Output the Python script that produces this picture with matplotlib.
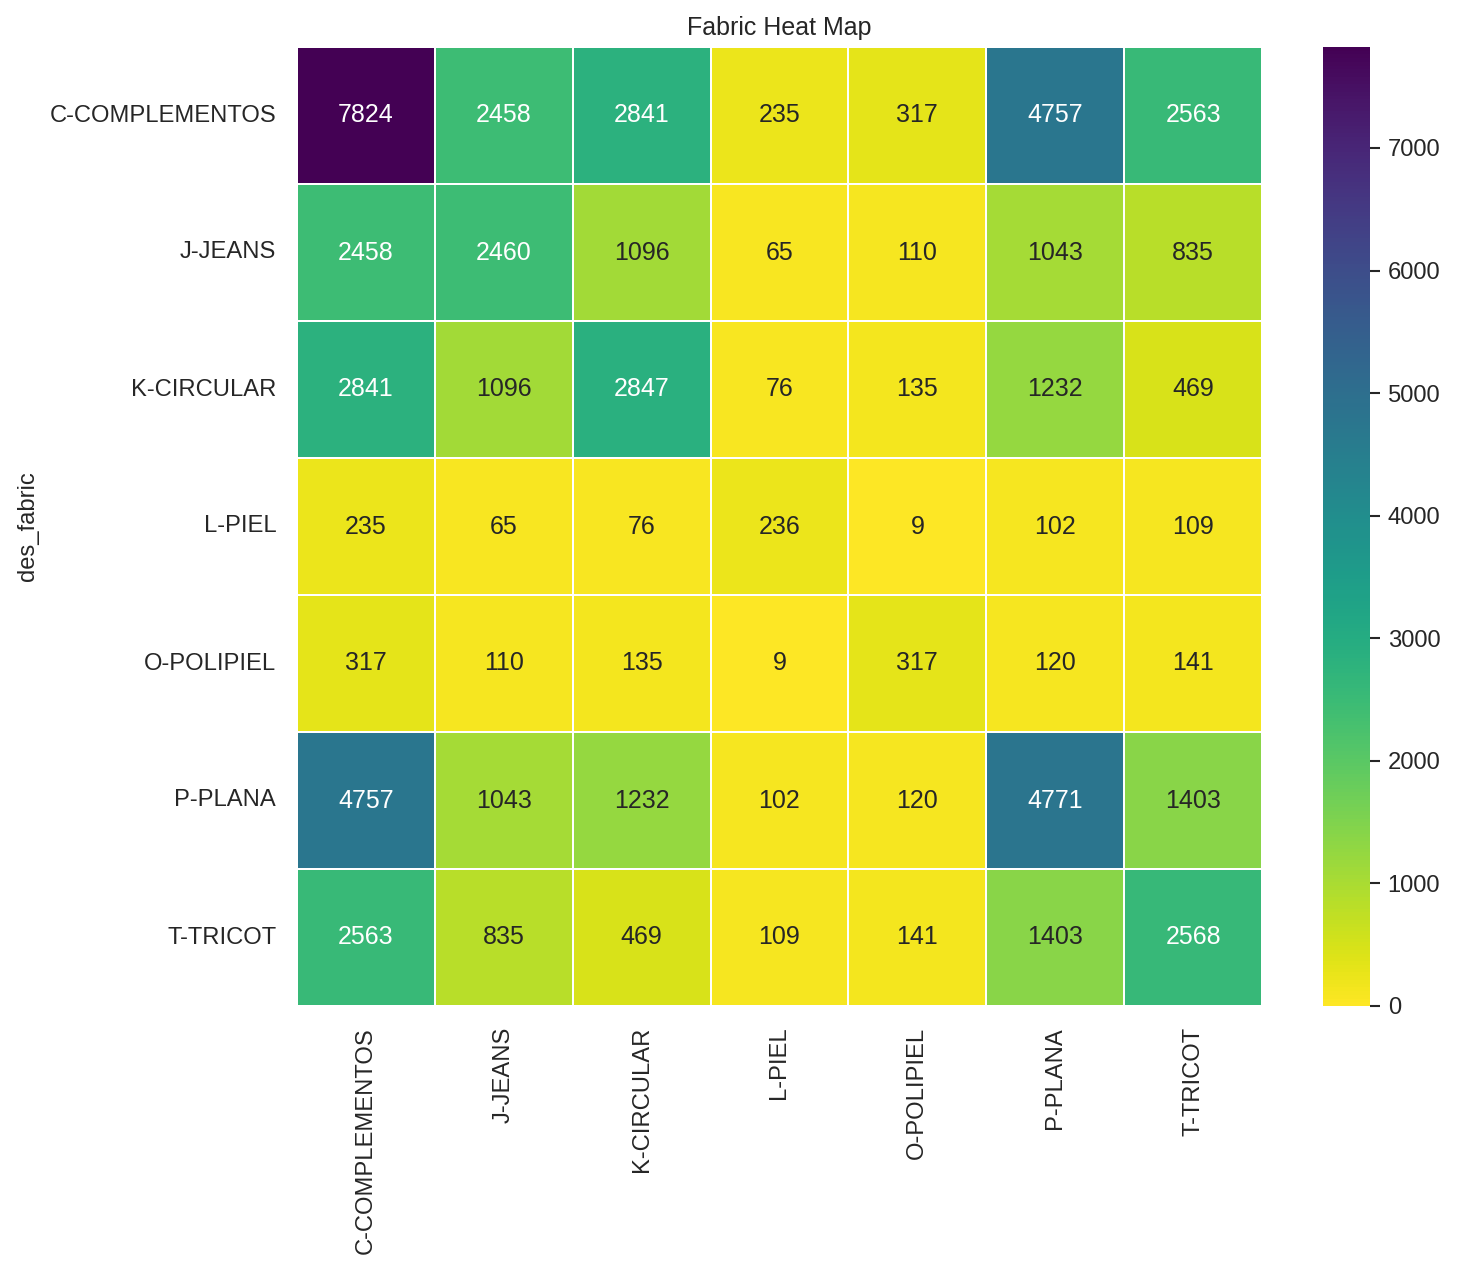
import matplotlib
matplotlib.use("Agg")
import matplotlib.pyplot as plt
import numpy as np
import pandas as pd
import seaborn as sns

fabrics = ["C-COMPLEMENTOS", "J-JEANS", "K-CIRCULAR", "L-PIEL",
           "O-POLIPIEL", "P-PLANA", "T-TRICOT"]

# co-occurrence counts, row by row
row_c = [7824, 2458, 2841, 235, 317, 4757, 2563]
row_j = [2458, 2460, 1096, 65, 110, 1043, 835]
row_k = [2841, 1096, 2847, 76, 135, 1232, 469]
row_l = [235, 65, 76, 236, 9, 102, 109]
row_o = [317, 110, 135, 9, 317, 120, 141]
row_p = [4757, 1043, 1232, 102, 120, 4771, 1403]
row_t = [2563, 835, 469, 109, 141, 1403, 2568]

df = pd.DataFrame([row_c, row_j, row_k, row_l, row_o, row_p, row_t],
                  index=fabrics, columns=fabrics)
df.index.name = "des_fabric"

sns.set_theme(style="white")
plt.rcParams['font.family'] = ['Liberation Sans', 'DejaVu Sans']

fig = plt.figure(figsize=(1460 / 150, 1270 / 150), dpi=150)
ax = fig.add_axes([297 / 1460, 1 - 1006 / 1270, 965 / 1460, 959 / 1270])
cax = fig.add_axes([1323 / 1460, 1 - 1006 / 1270, 47 / 1460, 959 / 1270])

sns.heatmap(df, annot=True, fmt="d", cmap="viridis_r", vmin=0,
            linewidths=0.8, linecolor="white", ax=ax, cbar_ax=cax,
            annot_kws={"fontsize": 12})
ax.set_title("Fabric Heat Map", fontsize=12, pad=6)
ax.set_xlabel("")
ax.set_ylabel("des_fabric", fontsize=11.4, labelpad=5)
ax.tick_params(axis="both", length=0, pad=10, labelsize=11.4)
plt.setp(ax.get_xticklabels(), rotation=90)
plt.setp(ax.get_yticklabels(), rotation=0)
cax.tick_params(axis="y", length=5, width=1, labelsize=11.4, right=True)

fig.savefig("out.png", dpi=150)
